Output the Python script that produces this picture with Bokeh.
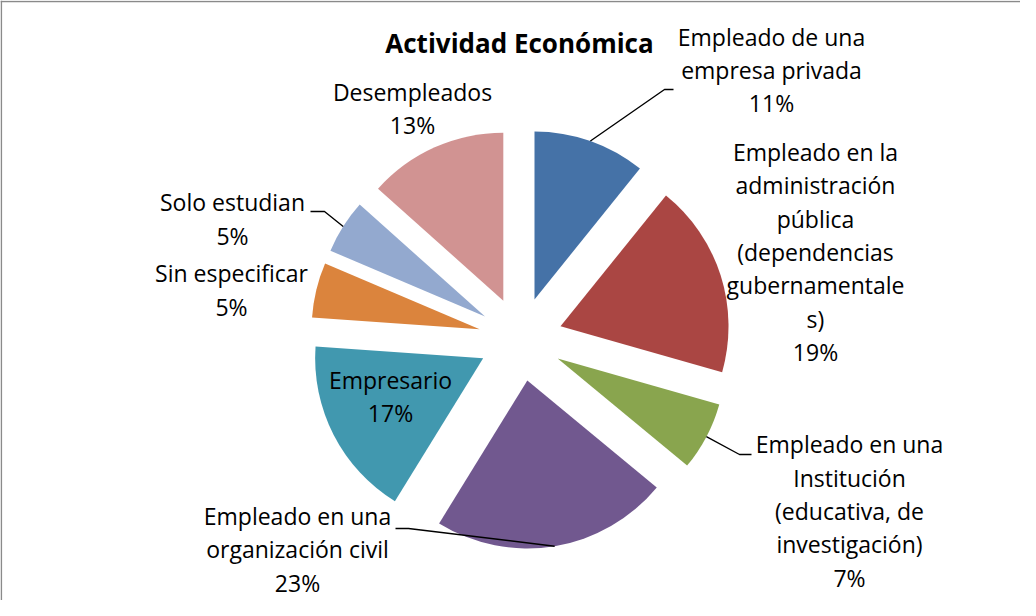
import math
from bokeh.plotting import figure
from bokeh.models import Range1d, Span, ColumnDataSource
from bokeh.embed import file_html
from bokeh.resources import INLINE
from bokeh.core.properties import value

# ---------------- data ----------------
categories = [
    "Empleado de una empresa privada",
    "Empleado en la administración pública (dependencias gubernamentales)",
    "Empleado en una Institución (educativa, de investigación)",
    "Empleado en una organización civil",
    "Empresario",
    "Sin especificar",
    "Solo estudian",
    "Desempleados",
]
label_names = [
    "Empleado de una\nempresa privada",
    "Empleado en la\nadministración\npública\n(dependencias\ngubernamentale\ns)",
    "Empleado en una\nInstitución\n(educativa, de\ninvestigación)",
    "Empleado en una\norganización civil",
    "Empresario",
    "Sin especificar",
    "Solo estudian",
    "Desempleados",
]
shares = [10.8, 18.6, 6.6, 22.8, 17.3, 5.3, 5.2, 13.4]
colors = ["#4572A7", "#AA4643", "#89A54E", "#71588F",
          "#4198AF", "#DB843D", "#93A9CF", "#D19392"]
title_text = "Actividad Económica"

# ---------------- layout (pixels) ----------------
W, H = 1020, 600
def dx(px): return px - 8
def dy(py): return 608 - py

CX, CY = dx(528), dy(346.5)
R = 168
EXPLODE = 42

# label block centers (pixel coords)
label_pos = [(779, 77.5), (823, 259.5), (857, 518.5), (305, 557),
             (398, 404), (239, 297.5), (240, 226.5), (420, 116)]
# leader lines: (elbow, end) in pixels, None if no leader
leaders = [((672, 97), (681, 97)), None, ((747, 462), (759, 462)),
           ((416, 536), (403, 536)), None, None,
           ((332, 219), (318, 219)), None]

total = sum(shares)
xs, ys, starts, ends, mids = [], [], [], [], []
cum = 0.0
for v in shares:
    a1 = 360.0 * cum / total
    cum += v
    a2 = 360.0 * cum / total
    mid = math.radians((a1 + a2) / 2)
    xs.append(CX + EXPLODE * math.sin(mid))
    ys.append(CY + EXPLODE * math.cos(mid))
    starts.append(math.radians(90 - a2))
    ends.append(math.radians(90 - a1))
    mids.append(mid)

src = ColumnDataSource(dict(x=xs, y=ys, start=starts, end=ends, color=colors, cat=categories))

p = figure(width=W, height=H, output_backend="svg", toolbar_location=None,
           x_range=Range1d(0, W), y_range=Range1d(0, H), min_border=0)
p.axis.visible = False
p.grid.visible = False
p.outline_line_color = None
p.background_fill_color = "white"

p.wedge(x="x", y="y", radius=R, start_angle="start", end_angle="end",
        fill_color="color", line_color=None, source=src)

# leader lines
for i, ld in enumerate(leaders):
    if ld is None:
        continue
    sx = xs[i] + R * math.sin(mids[i])
    sy = ys[i] + R * math.cos(mids[i])
    (ex, ey), (fx, fy) = ld
    p.line([sx, dx(ex), dx(fx)], [sy, dy(ey), dy(fy)], line_color="black", line_width=1.4)

# labels
texts = []
for name, v in zip(label_names, shares):
    texts.append(f"{name}\n{round(100 * v / total)}%")
lsrc = ColumnDataSource(dict(x=[dx(a) for a, b in label_pos], y=[dy(b) for a, b in label_pos], t=texts))
p.text(x="x", y="y", text="t", source=lsrc, text_align="center", text_baseline="middle",
       text_font=value("Open Sans"), text_font_size="23px", text_color="black",
       text_line_height=1.04)

# title
p.text(x=[dx(527)], y=[dy(50)], text=[title_text], text_align="center", text_baseline="middle",
       text_font=value("Open Sans"), text_font_size="26px", text_font_style="bold",
       text_color="black")

# chart area border (top and left visible)
p.add_layout(Span(location=0.8, dimension="height", line_color="#8a8a8a", line_width=1.6))
p.add_layout(Span(location=dy(9), dimension="width", line_color="#8a8a8a", line_width=1.6))

open("out.html", "w").write(file_html(p, INLINE))
